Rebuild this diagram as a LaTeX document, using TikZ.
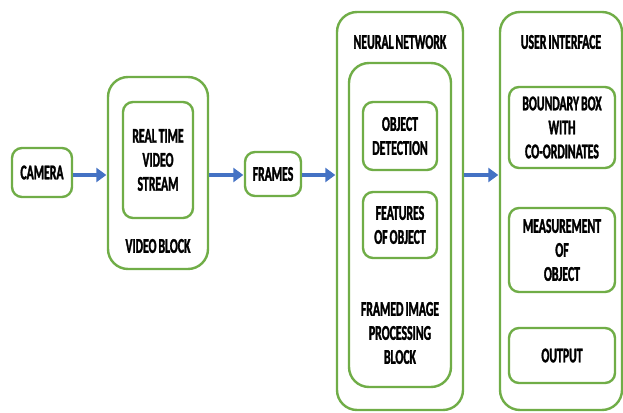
\documentclass[tikz,border=0pt]{standalone}
\usepackage{fontspec}
\setmainfont{Carlito}[FakeStretch=0.56, WordSpace=0.75, BoldFeatures={FakeBold=1.5}]
\usetikzlibrary{arrows.meta}
\definecolor{boxgreen}{RGB}{112,173,71}
\definecolor{flowblue}{RGB}{68,114,196}
\tikzset{
  outerbox/.style={draw=boxgreen, line width=2.4pt, rounded corners=20pt, fill=white},
  innerbox/.style={draw=boxgreen, line width=2.4pt, rounded corners=10pt, fill=white},
  lbl/.style={align=center, inner sep=0pt, font=\fontsize{21}{24}\selectfont\bfseries},
  flow/.style={draw=flowblue, line width=4pt, -{Triangle[length=10pt,width=14pt]}, shorten >=0.5pt},
}
\begin{document}
\begin{tikzpicture}[x=1pt,y=1pt]
\useasboundingbox (0,0) rectangle (623,412);

% camera
\node[innerbox, minimum width=60pt, minimum height=49pt] (cam) at (42,239.5) {};
\node[lbl] (camt) at (cam) {CAMERA};

% video block
\node[outerbox, minimum width=100pt, minimum height=192pt] (vid) at (158,239) {};
\node[innerbox, minimum width=70pt, minimum height=116pt] (rtv) at (158,252) {};
\node[lbl] (rtvt) at (rtv) {REAL TIME\\VIDEO\\STREAM};
\node[lbl] (vidt) at (158,166) {VIDEO BLOCK};

% frames
\node[innerbox, minimum width=56pt, minimum height=44pt] (frm) at (273,238) {};
\node[lbl] (frmt) at (frm) {FRAMES};

% neural network
\node[outerbox, minimum width=126pt, minimum height=398pt] (nn) at (400,201) {};
\node[lbl] (nnt) at (400,370) {NEURAL NETWORK};
\node[outerbox, minimum width=102pt, minimum height=324pt] (fip) at (400,187) {};
\node[innerbox, minimum width=74pt, minimum height=68pt] (od) at (400,276) {};
\node[lbl] (odt) at (od) {OBJECT\\DETECTION};
\node[innerbox, minimum width=74pt, minimum height=66pt] (fo) at (400,187) {};
\node[lbl] (fot) at (fo) {FEATURES\\OF OBJECT};
\node[lbl] (fipt) at (400,79) {FRAMED IMAGE\\PROCESSING\\BLOCK};

% user interface
\node[outerbox, minimum width=122pt, minimum height=398pt] (ui) at (561,201) {};
\node[lbl] (uit) at (561,370) {USER INTERFACE};
\node[innerbox, minimum width=106pt, minimum height=81pt] (bb) at (562,284.5) {};
\node[lbl] (bbt) at (bb) {BOUNDARY BOX\\WITH\\CO-ORDINATES};
\node[innerbox, minimum width=106pt, minimum height=84pt] (ms) at (562,162) {};
\node[lbl] (mst) at (ms) {MEASUREMENT\\OF\\OBJECT};
\node[innerbox, minimum width=106pt, minimum height=55pt] (out) at (562,56.5) {};
\node[lbl] (outt) at (out) {OUTPUT};

% flow arrows
\draw[flow] (cam.east |- 0,237) -- (vid.west |- 0,237);
\draw[flow] (vid.east |- 0,237) -- (frm.west |- 0,237);
\draw[flow] (frm.east |- 0,237) -- (nn.west |- 0,237);
\draw[flow] (nn.east |- 0,237) -- (ui.west |- 0,237);
\end{tikzpicture}
\end{document}
